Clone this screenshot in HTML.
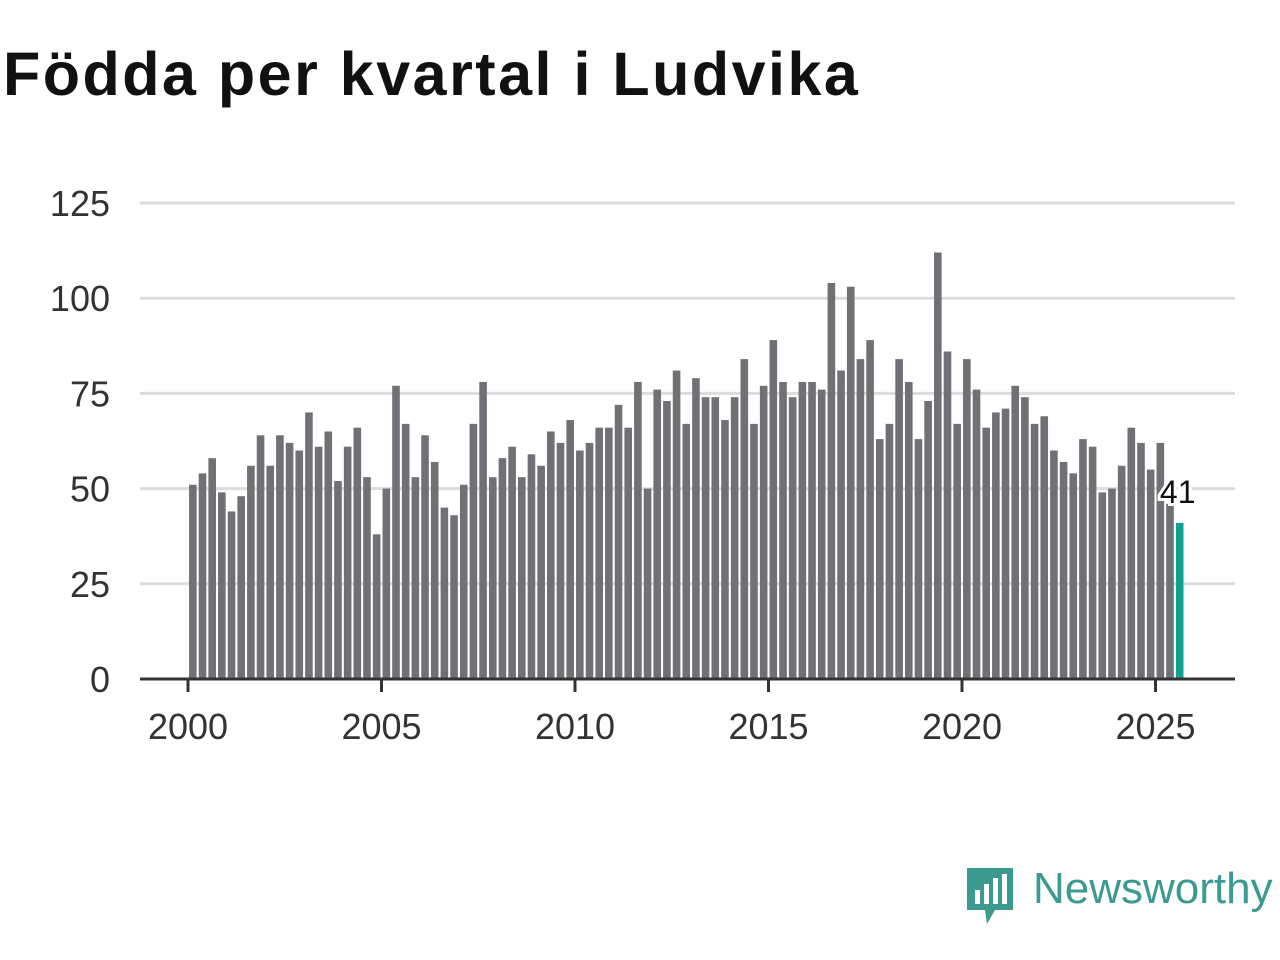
<!DOCTYPE html>
<html><head><meta charset="utf-8"><style>
body{margin:0;width:1280px;height:960px;background:#fff;font-family:"Liberation Sans",sans-serif;overflow:hidden}
h1{position:absolute;left:3px;top:39px;margin:0;font-size:61px;font-weight:bold;color:#111;letter-spacing:2.5px}
</style></head><body>
<h1>Födda per kvartal i Ludvika</h1>
<svg id="chart" width="1280" height="960" style="position:absolute;left:0;top:0"></svg>
<script>
const values=[51,54,58,49,44,48,56,64,56,64,62,60,70,61,65,52,61,66,53,38,50,77,67,53,64,57,45,43,51,67,78,53,58,61,53,59,56,65,62,68,60,62,66,66,72,66,78,50,76,73,81,67,79,74,74,68,74,84,67,77,89,78,74,78,78,76,104,81,103,84,89,63,67,84,78,63,73,112,86,67,84,76,66,70,71,77,74,67,69,60,57,54,63,61,49,50,56,66,62,55,62,46,41];
const startYear=2000;
const yTicks=[0,25,50,75,100,125];
const xTicks=[2000,2005,2010,2015,2020,2025];
const svg=document.getElementById('chart');const NS='http://www.w3.org/2000/svg';
const x=t=>188+(t-2000)*38.7;
const y=v=>679-v*3.808;
function mk(tag,attrs,txt){const e=document.createElementNS(NS,tag);for(const k in attrs)e.setAttribute(k,attrs[k]);if(txt!==undefined)e.textContent=txt;svg.appendChild(e);return e;}
yTicks.forEach(v=>{
 if(v>0){const l=mk('line',{x1:140,x2:1235,y1:y(v),y2:y(v),stroke:'#dcdcdc','stroke-width':3});
 
 }
 const t=mk('text',{x:110,y:y(v)+13,'text-anchor':'end','font-size':36,fill:'#333'},v);
 
 
});
values.forEach((v,i)=>{
 const t=startYear+i*0.25+0.125;const last=i===values.length-1;
 const r=mk('rect',{x:x(t)-3.8,y:y(v),width:7.6,height:y(0)-y(v),fill:last?'#12a090':'#707075'});
 
 
 if(last){
  const lb=mk('text',{x:x(t)-2,y:y(v)-20,'text-anchor':'middle','font-size':32,fill:'#111',stroke:'#fff','stroke-width':6,'paint-order':'stroke'},v);
  
  
 }
});
const ax=mk('line',{x1:140,x2:1235,y1:679,y2:679,stroke:'#333','stroke-width':3});


xTicks.forEach(yr=>{
 const tk=mk('line',{x1:x(yr),x2:x(yr),y1:679,y2:692,stroke:'#333','stroke-width':3});
 
 
 const t=mk('text',{x:x(yr),y:739,'text-anchor':'middle','font-size':36,fill:'#333'},yr);
 
 
});
</script>
<div style="position:absolute;left:965px;top:866px;width:315px;height:60px">
<svg width="50" height="60" style="position:absolute;left:0;top:0"><path d="M2 2 H48 V44 H30 L22 58 L20 44 H2 Z" fill="#3c9a8f"/><rect x="10" y="24" width="5" height="14" fill="#fff"/><rect x="19" y="18" width="5" height="20" fill="#fff"/><rect x="28" y="12" width="5" height="26" fill="#fff"/><rect x="37" y="8" width="5" height="30" fill="#fff"/></svg>
<span style="position:absolute;left:68px;top:-2px;font-size:44px;color:#3c9a8f">Newsworthy</span>
</div>
</body></html>
